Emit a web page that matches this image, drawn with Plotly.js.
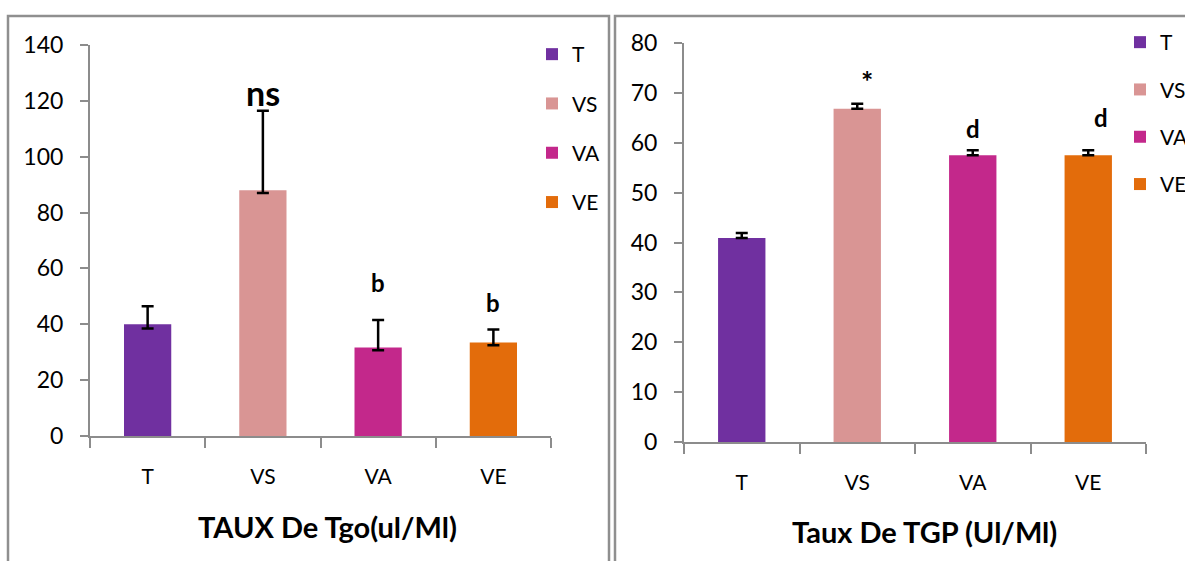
<!DOCTYPE html>
<html>
<head>
<meta charset="utf-8">
<script src="https://cdn.plot.ly/plotly-3.0.1.min.js"></script>
<style>
html,body{margin:0;padding:0;background:#fff;overflow:hidden;}
#chart{width:1240px;height:561px;}
</style>
</head>
<body>
<div id="chart"></div>
<script>
// ---- data ----
const categories = ['T', 'VS', 'VA', 'VE'];
const colors = ['#7030A0', '#D99594', '#C3288B', '#E36C0B'];

const tgoValues    = [40, 88, 31.7, 33.5];
const tgoErrPlus   = [6.5, 28.5, 9.8, 4.6];
const tgoErrMinus  = [1.5, 1, 1, 1];
const tgoMarks     = ['', 'ns', 'b', 'b'];

const tgpValues    = [40.9, 66.8, 57.5, 57.5];
const tgpErrPlus   = [1, 1, 1, 1];
const tgpMarks     = ['', '*', 'd', 'd'];

const tgoTitle = 'TAUX De Tgo(ul/Ml)';
const tgpTitle = 'Taux De TGP (Ul/Ml)';

// ---- layout helpers ----
const W = 1240, H = 561;   // window is 1185 wide; the extra width is cropped (legend text cut off as in the original)
const px = v => v / W;
const py = v => 1 - v / H;
const FONT = 'Lato, "Open Sans", sans-serif';

const traces = [];
categories.forEach((c, i) => {
  traces.push({
    type: 'bar', x: [c], y: [tgoValues[i]], name: c,
    xaxis: 'x', yaxis: 'y', legend: 'legend', legendgroup: 'a' + i,
    marker: {color: colors[i]}, width: 0.41,
    error_y: {type: 'data', symmetric: false, array: [tgoErrPlus[i]], arrayminus: [tgoErrMinus[i]],
              color: '#000', thickness: 2.5, width: 6}
  });
});
categories.forEach((c, i) => {
  traces.push({
    type: 'bar', x: [c], y: [tgpValues[i]], name: c,
    xaxis: 'x2', yaxis: 'y2', legend: 'legend2', legendgroup: 'b' + i,
    marker: {color: colors[i]}, width: 0.41,
    error_y: {type: 'data', symmetric: false, array: [tgpErrPlus[i]], arrayminus: [0],
              color: '#000', thickness: 2.5, width: 6}
  });
});

const axisCommon = {
  showline: true, linecolor: '#8c8c8c', linewidth: 2,
  showgrid: false, zeroline: false, fixedrange: true,
  tickfont: {family: FONT, size: 23, color: '#000'},
  ticks: 'outside', tickcolor: '#8c8c8c', tickwidth: 2
};

const xCommon = Object.assign({}, axisCommon, {
  type: 'category', categoryorder: 'array', categoryarray: categories,
  tickson: 'boundaries', ticklen: 10, ticklabelstandoff: 21,
  tickfont: {family: FONT, size: 21, color: '#000'}
});

const yCommon = Object.assign({}, axisCommon, {ticklen: 8, ticklabelstandoff: 12});

const annotations = [];
const tgoMarkY = [0, 115, 49.1, 41.8];
const tgoSize  = [0, 34, 24, 24];
tgoMarks.forEach((m, i) => {
  if (!m) return;
  annotations.push({xref: 'x', yref: 'y', x: categories[i], y: tgoMarkY[i], text: '<b>' + m + '</b>',
    showarrow: false, yanchor: 'bottom',
    font: {family: FONT, size: tgoSize[i], color: '#000'}});
});
const tgpMarkY = [0, 72.4, 59.5, 61.8];
const tgpShift = [0, 10, 0, 13];
const tgpAnchor = ['bottom', 'middle', 'bottom', 'bottom'];
const tgpSize  = [0, 29, 24, 24];
tgpMarks.forEach((m, i) => {
  if (!m) return;
  annotations.push({xref: 'x2', yref: 'y2', x: categories[i], y: tgpMarkY[i], text: '<b>' + m + '</b>',
    showarrow: false, yanchor: tgpAnchor[i], xshift: tgpShift[i],
    font: {family: FONT, size: tgpSize[i], color: '#000'}});
});

const titleFont = {family: FONT, size: 29, color: '#000'};
annotations.push({xref: 'paper', yref: 'paper', x: px(327), y: py(526), xanchor: 'center', yanchor: 'middle',
  text: '<b>' + tgoTitle + '</b>', showarrow: false, font: titleFont});
annotations.push({xref: 'paper', yref: 'paper', x: px(924), y: py(531), xanchor: 'center', yanchor: 'middle',
  text: '<b>' + tgpTitle + '</b>', showarrow: false, font: titleFont});

const layout = {
  width: W, height: H,
  margin: {l: 0, r: 0, t: 0, b: 0},
  paper_bgcolor: '#fff', plot_bgcolor: 'rgba(0,0,0,0)',
  barmode: 'overlay',
  showlegend: true,
  font: {family: FONT, color: '#000'},
  xaxis: Object.assign({}, xCommon, {domain: [px(90), px(551)], anchor: 'y'}),
  yaxis: Object.assign({}, yCommon, {
    domain: [py(436), py(45)], anchor: 'x', range: [0, 140], dtick: 20
  }),
  xaxis2: Object.assign({}, xCommon, {domain: [px(684), px(1146)], anchor: 'y2'}),
  yaxis2: Object.assign({}, yCommon, {
    domain: [py(442), py(43)], anchor: 'x2', range: [0, 80], dtick: 10
  }),
  legend: {
    x: px(532), y: py(34), xanchor: 'left', yanchor: 'top',
    traceorder: 'grouped', tracegroupgap: 19, bgcolor: 'rgba(0,0,0,0)',
    font: {family: FONT, size: 21, color: '#000'}, itemclick: false, itemdoubleclick: false
  },
  legend2: {
    x: px(1120), y: py(22), xanchor: 'left', yanchor: 'top',
    traceorder: 'grouped', tracegroupgap: 17, bgcolor: 'rgba(0,0,0,0)',
    font: {family: FONT, size: 21, color: '#000'}, itemclick: false, itemdoubleclick: false
  },
  shapes: [
    {type: 'rect', xref: 'paper', yref: 'paper', x0: px(8), x1: px(609), y0: py(575), y1: py(16),
     line: {color: '#8f8f8f', width: 2.5}, fillcolor: 'rgba(0,0,0,0)', layer: 'below'},
    {type: 'rect', xref: 'paper', yref: 'paper', x0: px(615), x1: px(1260), y0: py(575), y1: py(16),
     line: {color: '#8f8f8f', width: 2.5}, fillcolor: 'rgba(0,0,0,0)', layer: 'below'}
  ],
  annotations: annotations
};

Plotly.newPlot('chart', traces, layout, {displayModeBar: false, staticPlot: true});
</script>
</body>
</html>
